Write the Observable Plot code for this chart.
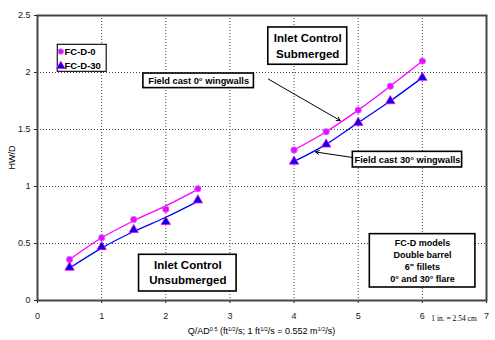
<!DOCTYPE html>
<html><head><meta charset="utf-8">
<script src="https://cdn.jsdelivr.net/npm/d3@7"></script>
<script src="https://cdn.jsdelivr.net/npm/@observablehq/plot@0.6"></script>
<style>
body{margin:0;background:#fff;}
svg{font-family:"Liberation Sans",Arial,sans-serif;}
</style>
</head><body><div id="chart"></div>
<script>
// ---- data ----
const seriesNames = ["FC-D-0", "FC-D-30"];
const qUnsub = [0.5, 1.0, 1.5, 2.0, 2.5];
const hwUnsub0 = [0.36, 0.55, 0.71, 0.80, 0.98];
const hwUnsub30 = [0.29, 0.47, 0.62, 0.69, 0.88];
const fitUnsub0 = [0.36, 0.55, 0.70, 0.83, 0.975];
const fitUnsub30 = [0.285, 0.46, 0.605, 0.73, 0.87];
const qSub = [4.0, 4.5, 5.0, 5.5, 6.0];
const hwSub0 = [1.32, 1.48, 1.67, 1.88, 2.10];
const hwSub30 = [1.22, 1.37, 1.56, 1.75, 1.955];
const xTicks = [0, 1, 2, 3, 4, 5, 6, 7];
const yTicks = [0, 0.5, 1, 1.5, 2, 2.5];

// ---- build tables ----
const pts = [];
qUnsub.forEach((q, i) => { pts.push({q, hw: hwUnsub0[i], s: seriesNames[0]}); pts.push({q, hw: hwUnsub30[i], s: seriesNames[1]}); });
qSub.forEach((q, i) => { pts.push({q, hw: hwSub0[i], s: seriesNames[0]}); pts.push({q, hw: hwSub30[i], s: seriesNames[1]}); });
const lines = [];
qUnsub.forEach((q, i) => { lines.push({q, hw: fitUnsub0[i], s: seriesNames[0], seg: "u0"}); lines.push({q, hw: fitUnsub30[i], s: seriesNames[1], seg: "u30"}); });
qSub.forEach((q, i) => { lines.push({q, hw: hwSub0[i], s: seriesNames[0], seg: "s0"}); lines.push({q, hw: hwSub30[i], s: seriesNames[1], seg: "s30"}); });

const lineColor = {"FC-D-0": "#ff00ff", "FC-D-30": "#0000ff"};
const dotFill = {"FC-D-0": "#ff00ff", "FC-D-30": "#0000dd"};
const dotStroke = {"FC-D-0": "#9a8cff", "FC-D-30": "#ff00ff"};

// annotation boxes (data coordinates)
const boxes = [
  {x1: 3.598, x2: 4.829, y1: 2.068, y2: 2.395, w: 1.6},
  {x1: 1.651, x2: 3.374, y1: 1.863, y2: 1.991, w: 1.6},
  {x1: 4.916, x2: 6.62, y1: 1.167, y2: 1.304, w: 1.6},
  {x1: 1.583, x2: 3.104, y1: 0.079, y2: 0.401, w: 1.6},
  {x1: 5.181, x2: 6.827, y1: 0.114, y2: 0.582, w: 1.6},
  {x1: 0.316, x2: 1.079, y1: 2.006, y2: 2.243, w: 1.1}
];
const bigNotes = [
  {x: 4.213, y: 2.243, t: "Inlet Control\nSubmerged"},
  {x: 2.344, y: 0.2535, t: "Inlet Control\nUnsubmerged"}
];
const smallNotes = [
  {x: 2.512, y: 1.927, t: "Field cast 0° wingwalls"},
  {x: 5.768, y: 1.234, t: "Field cast 30° wingwalls"}
];
const modelNote = [{x: 6.002, y: 0.354, t: "FC-D models\nDouble barrel\n6\" fillets\n0° and 30° flare"}];
const arrows = [
  {x1: 3.60, y1: 1.942, x2: 4.72, y2: 1.578},
  {x1: 4.916, y1: 1.254, x2: 4.335, y2: 1.303}
];
const legendRows = [
  {x: 0.363, tx: 0.42, y: 2.184, s: seriesNames[0]},
  {x: 0.363, tx: 0.42, y: 2.056, s: seriesNames[1]}
];

const plot = Plot.plot({
  width: 495, height: 340,
  marginTop: 15, marginRight: 9, marginBottom: 40, marginLeft: 37,
  style: {fontFamily: "'Liberation Sans', Arial, sans-serif", fontSize: "9px", background: "#fff", color: "#222"},
  x: {domain: [0, 7], ticks: xTicks, tickSize: 3, tickPadding: 9, label: null, tickFormat: d => String(d)},
  y: {domain: [0, 2.5], ticks: yTicks, tickSize: 3, tickPadding: 4, label: null, tickFormat: d => String(d)},
  marks: [
    Plot.ruleX(xTicks.slice(1, -1), {stroke: "#444", strokeWidth: 1, strokeDasharray: "1,2"}),
    Plot.ruleY(yTicks.slice(1, -1), {stroke: "#444", strokeWidth: 1, strokeDasharray: "1,2"}),
    Plot.frame({stroke: "#444", strokeWidth: 2}),
    Plot.line(lines, {x: "q", y: "hw", z: "seg", stroke: d => lineColor[d.s], strokeWidth: 1.3, curve: "monotone-x"}),
    Plot.dot(pts.filter(d => d.s === seriesNames[0]), {x: "q", y: "hw", r: 3.2, fill: d => dotFill[d.s], stroke: d => dotStroke[d.s], strokeWidth: 0.8}),
    Plot.dot(pts.filter(d => d.s === seriesNames[1]), {x: "q", y: "hw", r: 3.5, symbol: "triangle", fill: d => dotFill[d.s], stroke: d => dotStroke[d.s], strokeWidth: 0.8}),
    Plot.rect(boxes, {x1: "x1", x2: "x2", y1: "y1", y2: "y2", fill: "white", stroke: "black", strokeWidth: d => d.w}),
    Plot.text(bigNotes, {x: "x", y: "y", text: "t", fontSize: 11.5, fontWeight: "bold", fill: "black", lineHeight: 1.35}),
    Plot.text(smallNotes, {x: "x", y: "y", text: "t", fontSize: 9.3, fontWeight: "bold", fill: "black"}),
    Plot.text(modelNote, {x: "x", y: "y", text: "t", fontSize: 9, fontWeight: "bold", fill: "black", lineHeight: 1.32}),
    Plot.arrow(arrows, {x1: "x1", y1: "y1", x2: "x2", y2: "y2", stroke: "black", strokeWidth: 1, headLength: 6}),
    Plot.dot(legendRows.slice(0, 1), {x: "x", y: "y", r: 2.8, fill: d => dotFill[d.s], stroke: d => dotStroke[d.s], strokeWidth: 0.8}),
    Plot.dot(legendRows.slice(1), {x: "x", y: "y", r: 3.2, symbol: "triangle", fill: d => dotFill[d.s], stroke: d => dotStroke[d.s], strokeWidth: 0.8}),
    Plot.text(legendRows, {x: "tx", y: "y", text: "s", textAnchor: "start", fontSize: 9.5, fontWeight: "bold", fill: "black"})
  ]
});
document.getElementById("chart").appendChild(plot);

// axis titles with superscripts
const svg = d3.select(plot);
const xr = plot.scale("x").range, yr = plot.scale("y").range;
const cx = (xr[0] + xr[1]) / 2;
const xl = svg.append("text").attr("x", cx).attr("y", 334).attr("text-anchor", "middle")
  .attr("font-size", 9).attr("fill", "black");
const parts = [["Q/AD", 0], ["0.5", 1], [" (ft", 0], ["1/2", 1], ["/s; 1 ft", 0], ["1/2", 1], ["/s = 0.552 m", 0], ["1/2", 1], ["/s)", 0]];
parts.forEach(([t, sup]) => {
  const ts = xl.append("tspan").text(t);
  if (sup) ts.attr("font-size", 5.5).attr("dy", -3.5);
  else ts.attr("dy", 3.5).attr("dy", null);
});
// fix baseline after superscripts
xl.selectAll("tspan").each(function(d, i) {
  const sup = parts[i][1];
  const prevSup = i > 0 ? parts[i - 1][1] : 0;
  d3.select(this).attr("dy", sup ? -3.5 : (prevSup ? 3.5 : null));
});
svg.append("text").attr("transform", `translate(15,${(yr[0] + yr[1]) / 2}) rotate(-90)`)
  .attr("text-anchor", "middle").attr("font-size", 9).attr("fill", "black").text("HW/D");
svg.append("text").attr("x", 454).attr("y", 321).attr("text-anchor", "middle")
  .attr("font-family", "'Liberation Serif', 'Times New Roman', serif").attr("font-size", 7.5).attr("fill", "black")
  .text("1 in. = 2.54 cm");
</script>
</body></html>
